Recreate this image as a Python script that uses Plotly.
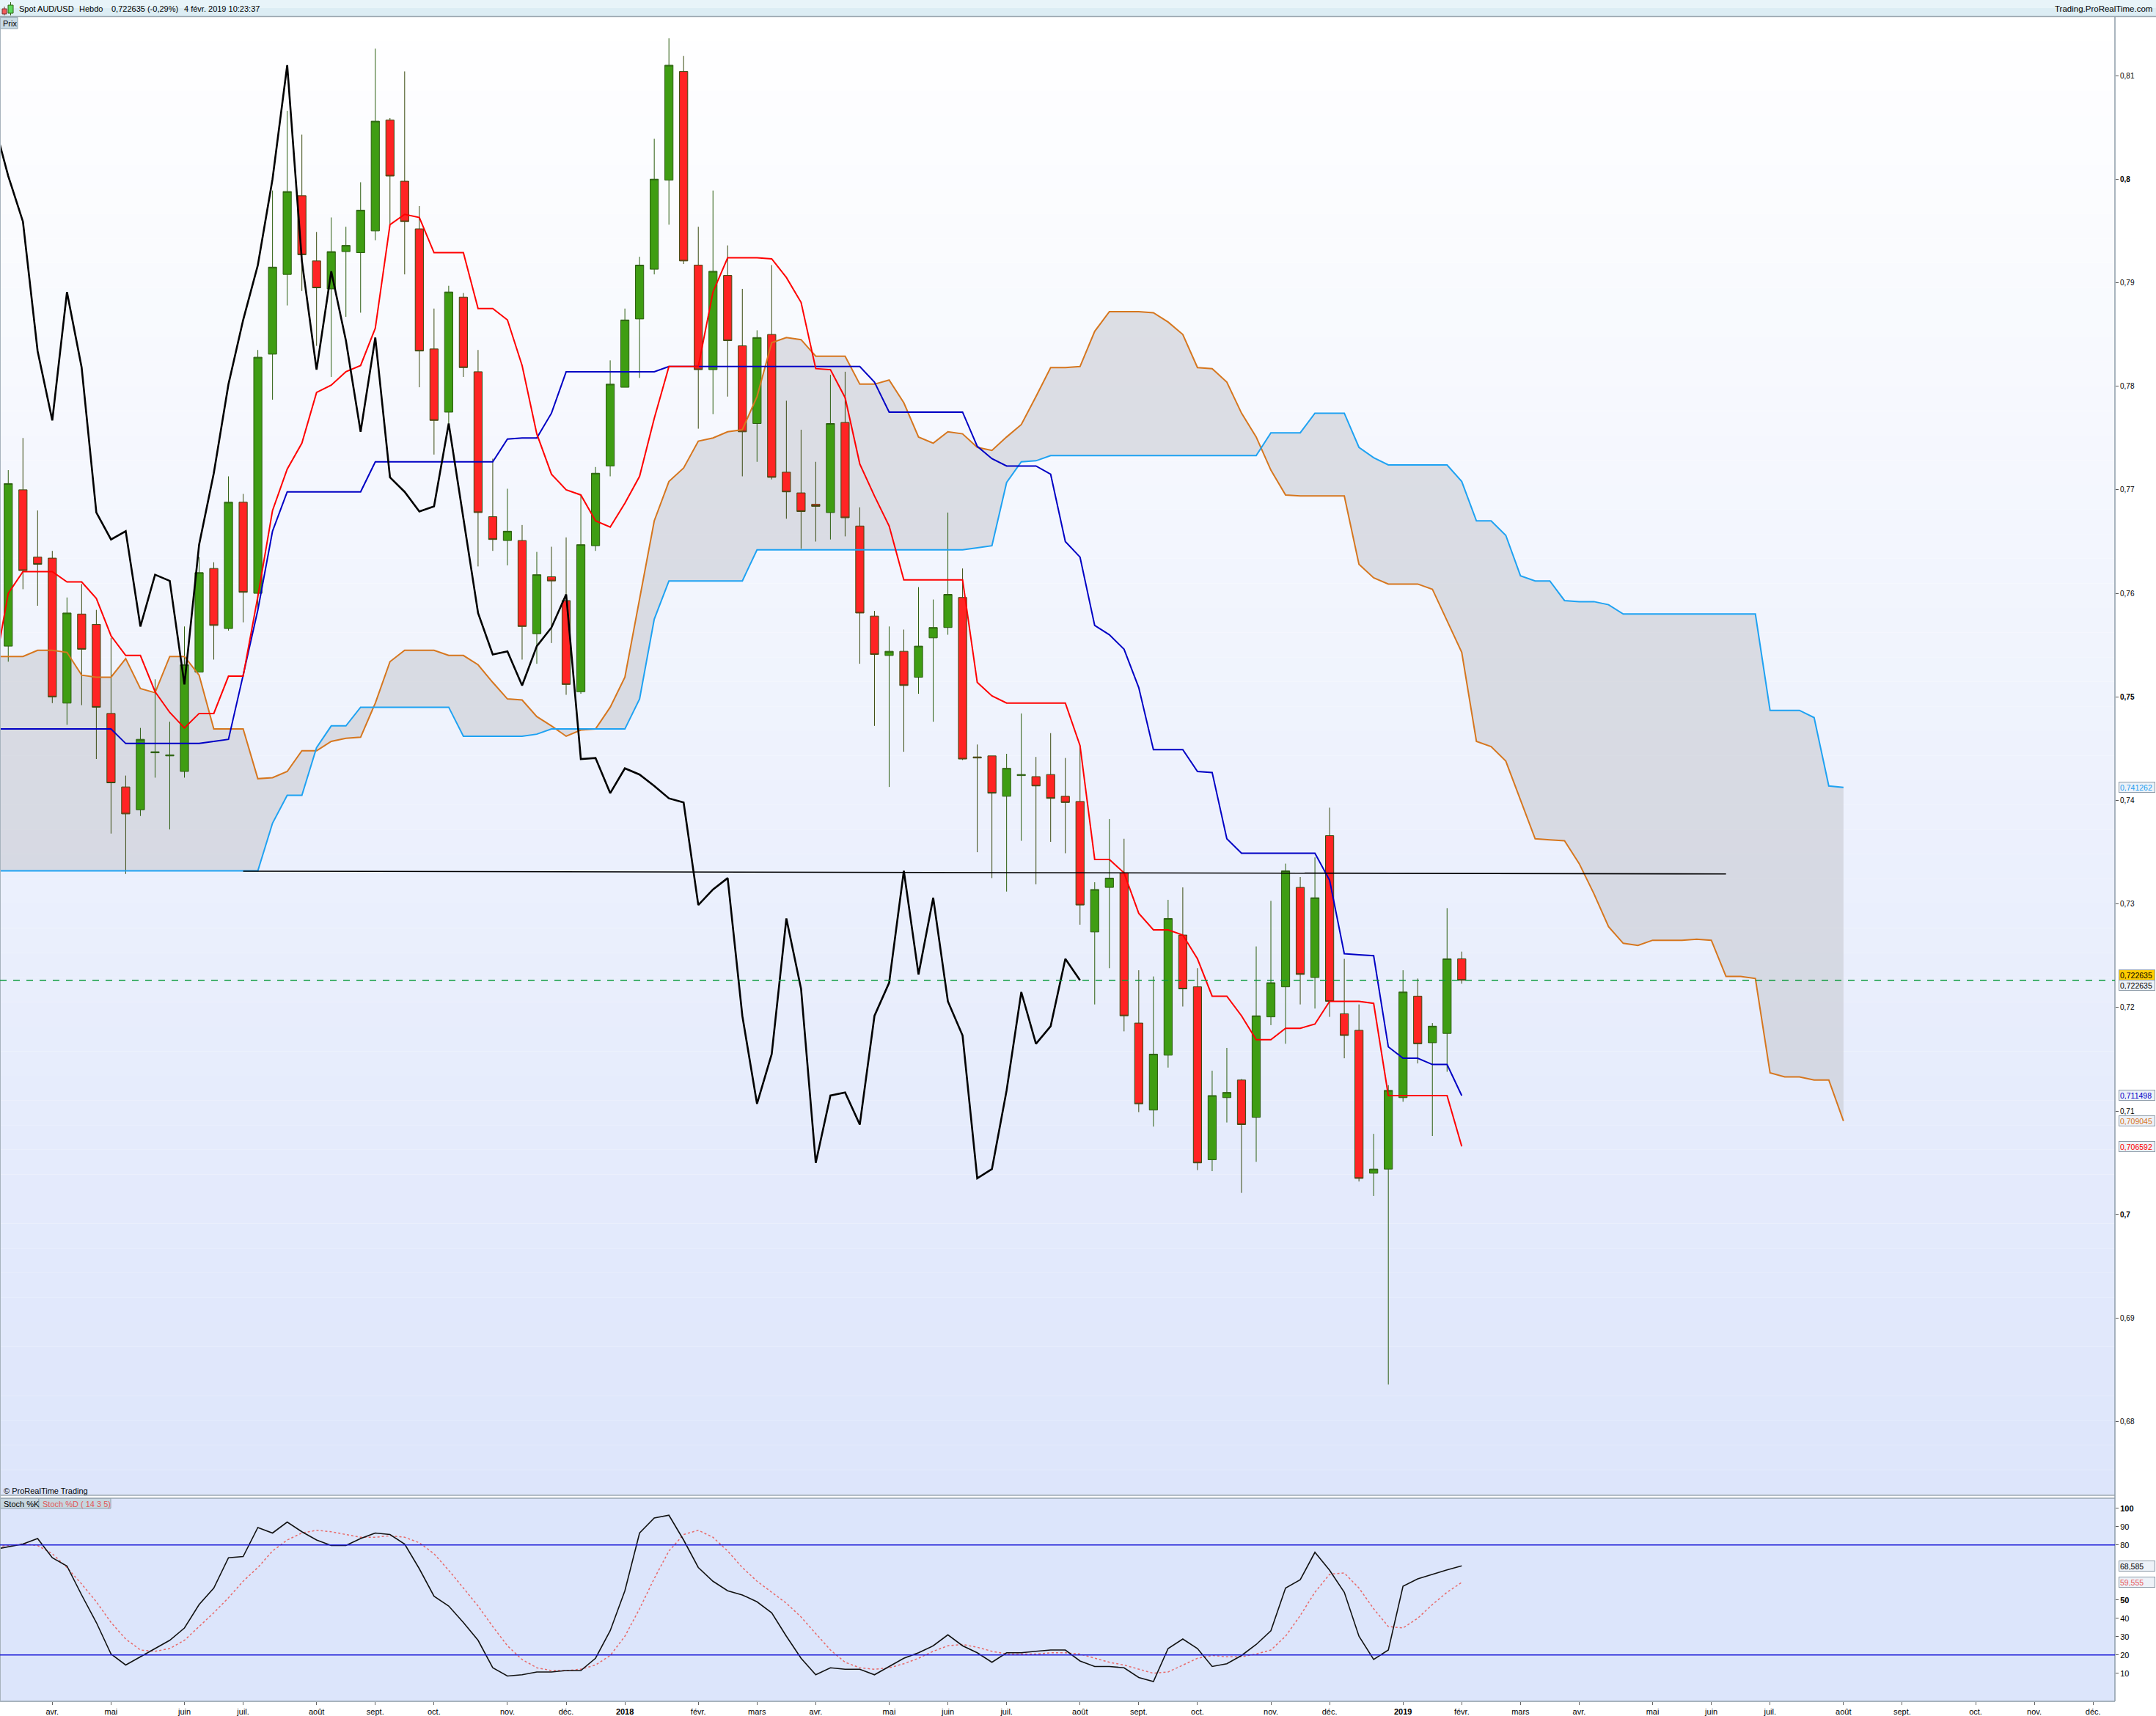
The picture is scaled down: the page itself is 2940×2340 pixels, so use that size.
import numpy as np
import plotly.graph_objects as go

W, H = 2940, 2340
START = np.datetime64("2017-03-13")  # week of first candle

# ---------------- weekly AUD/USD candles (2017-03-13 .. 2019-02-04) ----------------
opens = [0.7549, 0.7700, 0.7635, 0.7634, 0.7494, 0.7580, 0.7570, 0.7484, 0.7413, 0.7391,
         0.7446, 0.7443, 0.7428, 0.7524, 0.7624, 0.7566, 0.7688, 0.7600, 0.7831, 0.7908,
         0.7984, 0.7921, 0.7894, 0.7930, 0.7929, 0.7950, 0.8057, 0.7998, 0.7952, 0.7836,
         0.7775, 0.7886, 0.7814, 0.7674, 0.7651, 0.7651, 0.7561, 0.7616, 0.7593, 0.7505,
         0.7646, 0.7723, 0.7799, 0.7865, 0.7913, 0.7999, 0.8104, 0.7917, 0.7816, 0.7907,
         0.7839, 0.7764, 0.7850, 0.7717, 0.7697, 0.7686, 0.7678, 0.7765, 0.7665, 0.7578,
         0.7540, 0.7544, 0.7519, 0.7557, 0.7567, 0.7596, 0.7442, 0.7443, 0.7404, 0.7424,
         0.7423, 0.7425, 0.7404, 0.7399, 0.7273, 0.7316, 0.7330, 0.7185, 0.7101, 0.7154,
         0.7270, 0.7220, 0.7053, 0.7113, 0.7130, 0.7094, 0.7191, 0.7220, 0.7316, 0.7229,
         0.7366, 0.7194, 0.7178, 0.7040, 0.7044, 0.7113, 0.7211, 0.7166, 0.7175, 0.7247]
highs = [0.7719, 0.7750, 0.7680, 0.7641, 0.7596, 0.7609, 0.7584, 0.7557, 0.7424, 0.7470,
         0.7517, 0.7476, 0.7568, 0.7635, 0.7630, 0.7713, 0.7696, 0.7835, 0.7989, 0.8066,
         0.8043, 0.7949, 0.7963, 0.7954, 0.7997, 0.8126, 0.8059, 0.8104, 0.7974, 0.7875,
         0.7897, 0.7890, 0.7835, 0.7730, 0.7701, 0.7666, 0.7640, 0.7645, 0.7654, 0.7695,
         0.7722, 0.7825, 0.7875, 0.7925, 0.8039, 0.8136, 0.8119, 0.7954, 0.7989, 0.7936,
         0.7894, 0.7854, 0.7917, 0.7786, 0.7758, 0.7727, 0.7811, 0.7814, 0.7683, 0.7583,
         0.7568, 0.7565, 0.7606, 0.7594, 0.7678, 0.7624, 0.7454, 0.7443, 0.7445, 0.7484,
         0.7442, 0.7465, 0.7441, 0.7453, 0.7321, 0.7382, 0.7363, 0.7236, 0.7230, 0.7304,
         0.7316, 0.7238, 0.7139, 0.7161, 0.7131, 0.7259, 0.7303, 0.7339, 0.7326, 0.7345,
         0.7393, 0.7247, 0.7203, 0.7078, 0.7125, 0.7236, 0.7228, 0.7185, 0.7296, 0.7254]
lows = [0.7534, 0.7604, 0.7588, 0.7494, 0.7473, 0.7492, 0.7440, 0.7368, 0.7329, 0.7385,
        0.7422, 0.7372, 0.7422, 0.7524, 0.7536, 0.7564, 0.7572, 0.7586, 0.7787, 0.7878,
        0.7892, 0.7839, 0.7809, 0.7867, 0.7871, 0.7941, 0.7956, 0.7908, 0.7799, 0.7734,
        0.7764, 0.7809, 0.7626, 0.7641, 0.7627, 0.7536, 0.7532, 0.7552, 0.7502, 0.7503,
        0.7641, 0.7713, 0.7799, 0.7808, 0.7908, 0.7956, 0.7918, 0.7759, 0.7773, 0.7790,
        0.7713, 0.7727, 0.7710, 0.7672, 0.7643, 0.7650, 0.7652, 0.7655, 0.7532, 0.7472,
        0.7413, 0.7447, 0.7503, 0.7476, 0.7560, 0.7439, 0.7350, 0.7325, 0.7312, 0.7361,
        0.7319, 0.7360, 0.7349, 0.7280, 0.7203, 0.7238, 0.7177, 0.7099, 0.7085, 0.7142,
        0.7201, 0.7043, 0.7042, 0.7089, 0.7021, 0.7051, 0.7183, 0.7165, 0.7203, 0.7199,
        0.7191, 0.7151, 0.7032, 0.7018, 0.6836, 0.7109, 0.7146, 0.7076, 0.7138, 0.7223]
closes = [0.7706, 0.7622, 0.7628, 0.7500, 0.7581, 0.7546, 0.7490, 0.7417, 0.7387, 0.7459,
          0.7447, 0.7444, 0.7531, 0.7620, 0.7569, 0.7688, 0.7601, 0.7828, 0.7915, 0.7988,
          0.7927, 0.7895, 0.7930, 0.7936, 0.7970, 0.8056, 0.8003, 0.7959, 0.7834, 0.7767,
          0.7891, 0.7818, 0.7678, 0.7652, 0.7660, 0.7568, 0.7618, 0.7612, 0.7512, 0.7647,
          0.7716, 0.7802, 0.7864, 0.7917, 0.8000, 0.8110, 0.7921, 0.7816, 0.7911, 0.7844,
          0.7756, 0.7847, 0.7712, 0.7698, 0.7679, 0.7684, 0.7764, 0.7673, 0.7581, 0.7541,
          0.7544, 0.7511, 0.7549, 0.7567, 0.7599, 0.7440, 0.7441, 0.7407, 0.7431, 0.7425,
          0.7414, 0.7402, 0.7398, 0.7299, 0.7314, 0.7325, 0.7192, 0.7107, 0.7155, 0.7286,
          0.7218, 0.7050, 0.7115, 0.7118, 0.7087, 0.7192, 0.7224, 0.7332, 0.7232, 0.7306,
          0.7206, 0.7173, 0.7035, 0.7044, 0.7120, 0.7215, 0.7165, 0.7182, 0.7247, 0.722635]

# ---------------- Ichimoku lines (first value = week before first candle) ----------------
tenkan = [0.7521, 0.7600, 0.7621, 0.7621, 0.7621, 0.7611, 0.7611, 0.7595, 0.7559, 0.7540,
          0.7540, 0.7505, 0.7485, 0.7470, 0.7484, 0.7484, 0.7520, 0.7520, 0.7597, 0.7680,
          0.7720, 0.7745, 0.7794, 0.7801, 0.7814, 0.7820, 0.7856, 0.7956, 0.7966, 0.7963,
          0.7929, 0.7929, 0.7929, 0.7875, 0.7875, 0.7864, 0.7820, 0.7754, 0.7715, 0.7700,
          0.7695, 0.7670, 0.7664, 0.7687, 0.7713, 0.7769, 0.7819, 0.7819, 0.7819, 0.7891,
          0.7924, 0.7924, 0.7924, 0.7923, 0.7905, 0.7881, 0.7817, 0.7816, 0.7789, 0.7725,
          0.7694, 0.7665, 0.7613, 0.7613, 0.7613, 0.7613, 0.7613, 0.7514, 0.7501, 0.7494,
          0.7494, 0.7494, 0.7494, 0.7494, 0.7453, 0.7343, 0.7343, 0.7330, 0.7291, 0.7275,
          0.7275, 0.7270, 0.7247, 0.7211, 0.7211, 0.7192, 0.7169, 0.7169, 0.7180, 0.7180,
          0.7184, 0.7206, 0.7206, 0.7206, 0.7204, 0.7115, 0.7115, 0.7115, 0.7115, 0.7115,
          0.706592]
kijun = [0.7469, 0.7469, 0.7469, 0.7469, 0.7469, 0.7469, 0.7469, 0.7469, 0.7469, 0.7455,
         0.7455, 0.7455, 0.7455, 0.7455, 0.7455, 0.7457, 0.7459, 0.7521, 0.7584, 0.7660,
         0.7698, 0.7698, 0.7698, 0.7698, 0.7698, 0.7698, 0.7727, 0.7727, 0.7727, 0.7727,
         0.7727, 0.7727, 0.7727, 0.7727, 0.7727, 0.7749, 0.7750, 0.7750, 0.7774, 0.7814,
         0.7814, 0.7814, 0.7814, 0.7814, 0.7814, 0.7814, 0.7819, 0.7819, 0.7819, 0.7819,
         0.7819, 0.7819, 0.7819, 0.7819, 0.7819, 0.7819, 0.7819, 0.7819, 0.7819, 0.7819,
         0.7804, 0.7775, 0.7775, 0.7775, 0.7775, 0.7775, 0.7775, 0.7742, 0.7730, 0.7723,
         0.7723, 0.7723, 0.7715, 0.7650, 0.7635, 0.7569, 0.7560, 0.7546, 0.7509, 0.7449,
         0.7449, 0.7449, 0.7428, 0.7427, 0.7363, 0.7349, 0.7349, 0.7349, 0.7349, 0.7349,
         0.7349, 0.7323, 0.7252, 0.7251, 0.7250, 0.7162, 0.7151, 0.7151, 0.7145, 0.7145,
         0.711498]
senkou_a = [0.7539, 0.7539, 0.7539, 0.7545, 0.7545, 0.7543, 0.7521, 0.7519, 0.7519, 0.7537,
            0.7508, 0.7504, 0.7539, 0.7539, 0.7521, 0.7469, 0.7469, 0.7469, 0.7421, 0.7422,
            0.7428, 0.7448, 0.7448, 0.7457, 0.7460, 0.7461, 0.7494, 0.7534, 0.7545, 0.7545,
            0.7545, 0.7540, 0.7540, 0.7531, 0.7514, 0.7498, 0.7497, 0.7481, 0.7472, 0.7462,
            0.7468, 0.7469, 0.7490, 0.7519, 0.7595, 0.7670, 0.7708, 0.7721, 0.7747, 0.7750,
            0.7756, 0.7758, 0.7790, 0.7842, 0.7847, 0.7845, 0.7829, 0.7829, 0.7829, 0.7802,
            0.7802, 0.7806, 0.7784, 0.7751, 0.7745, 0.7756, 0.7754, 0.7741, 0.7738, 0.7751,
            0.7763, 0.7790, 0.7818, 0.7818, 0.7819, 0.7853, 0.7872, 0.7872, 0.7872, 0.7871,
            0.7862, 0.7850, 0.7818, 0.7817, 0.7804, 0.7774, 0.7751, 0.7719, 0.7695, 0.7694,
            0.7694, 0.7694, 0.7694, 0.7628, 0.7615, 0.7609, 0.7609, 0.7609, 0.7604, 0.7573,
            0.7543, 0.7457, 0.7452, 0.7438, 0.7401, 0.7363, 0.7362, 0.7361, 0.7339, 0.7310,
            0.7278, 0.7262, 0.7260, 0.7265, 0.7265, 0.7265, 0.7266, 0.7265, 0.7230, 0.7230,
            0.7228, 0.7137, 0.7133, 0.7133, 0.7130, 0.7130, 0.709045]
senkou_b = [0.7332, 0.7332, 0.7332, 0.7332, 0.7332, 0.7332, 0.7332, 0.7332, 0.7332, 0.7332,
            0.7332, 0.7332, 0.7332, 0.7332, 0.7332, 0.7332, 0.7332, 0.7332, 0.7332, 0.7378,
            0.7405, 0.7405, 0.7451, 0.7472, 0.7472, 0.7490, 0.7490, 0.7490, 0.7490, 0.7490,
            0.7490, 0.7490, 0.7462, 0.7462, 0.7462, 0.7462, 0.7462, 0.7464, 0.7469, 0.7469,
            0.7469, 0.7469, 0.7469, 0.7469, 0.7498, 0.7575, 0.7612, 0.7612, 0.7612, 0.7612,
            0.7612, 0.7612, 0.7642, 0.7642, 0.7642, 0.7642, 0.7642, 0.7642, 0.7642, 0.7642,
            0.7642, 0.7642, 0.7642, 0.7642, 0.7642, 0.7642, 0.7642, 0.7644, 0.7646, 0.7707,
            0.7727, 0.7728, 0.7733, 0.7733, 0.7733, 0.7733, 0.7733, 0.7733, 0.7733, 0.7733,
            0.7733, 0.7733, 0.7733, 0.7733, 0.7733, 0.7733, 0.7733, 0.7755, 0.7755, 0.7755,
            0.7774, 0.7774, 0.7774, 0.7741, 0.7731, 0.7724, 0.7724, 0.7724, 0.7724, 0.7724,
            0.7708, 0.7670, 0.7670, 0.7656, 0.7617, 0.7612, 0.7612, 0.7593, 0.7592, 0.7592,
            0.7589, 0.7580, 0.7580, 0.7580, 0.7580, 0.7580, 0.7580, 0.7580, 0.7580, 0.7580,
            0.7580, 0.7487, 0.7487, 0.7487, 0.7480, 0.7414, 0.741262]

# ---------------- Stochastic (14 3 5), first value = week before first candle ----------------
stoch_k = [77.5, 79, 80.5, 83.5, 73, 68.5, 52.7, 37.7, 20.5, 14.5, 19, 23.5, 28, 34.7, 47.5,
           56.5, 73, 73.7, 89.5, 86.5, 92.5, 87.2, 82.7, 79.7, 79.7, 83.5, 86.5, 85.7, 80.5, 67,
           52, 46.7, 37.7, 28, 13, 8.5, 9.2, 10.7, 10.7, 11.5, 11.5, 18.2, 33.2, 55, 86.5,
           94.7, 96.2, 82.7, 67.7, 60.2, 55, 52.7, 49, 43, 30.2, 18.2, 9.2, 13, 12.2, 12.2,
           9.2, 13.7, 18.2, 21.2, 25, 31, 25, 21.2, 16, 21.2, 21.2, 22, 22.7, 22.7, 16.7,
           13.7, 13.7, 13, 7.7, 5.5, 23.5, 28.7, 23.5, 13.7, 15.2, 19.7, 25.7, 33.2, 56.5, 61,
           76, 66.2, 54.2, 30.2, 17.5, 22.7, 57.5, 61.5, 64.0, 66.4, 68.585]
stoch_d = [79, 79.7, 80.5, 79.7, 75.2, 67.7, 58.7, 49, 37.7, 28.7, 22.7, 22, 23.5, 28, 35.5,
           43, 51.2, 60.2, 67.7, 76.7, 82.7, 86.5, 88, 87.2, 85.7, 84.2, 84.2, 85, 84.2, 81.2,
           75.2, 66.2, 56.5, 46.7, 35.5, 25, 17.5, 13, 11.5, 11.5, 12.2, 14.5, 19.7, 30.2, 45.2,
           61.7, 76.7, 85.7, 88, 84.2, 76.7, 67.7, 60.2, 54.2, 48.2, 40.7, 31.7, 22.7, 16, 13,
           12.2, 13, 15.2, 18.2, 22, 25, 25.7, 24.2, 22, 20.5, 20.5, 20.5, 21.2, 21.2, 20.5,
           18.2, 16, 14.5, 12.2, 10, 10.7, 14.5, 18.2, 19.7, 19, 19, 20.5, 22.7, 30.2, 41.5,
           54.2, 64, 64.7, 56.5, 45.2, 35.5, 34.7, 40, 47.5, 54.2, 59.555]

# ---------------- drawn support line (price level, start/end week) ----------------
support_weeks = ["2017-07-03", "2019-06-10"]
support_prices = [0.73317, 0.73290]

# ---------------- axis ticks ----------------
month_dates = ["2017-04-03", "2017-05-01", "2017-06-05", "2017-07-03", "2017-08-07", "2017-09-04",
               "2017-10-02", "2017-11-06", "2017-12-04", "2018-01-01", "2018-02-05", "2018-03-05",
               "2018-04-02", "2018-05-07", "2018-06-04", "2018-07-02", "2018-08-06", "2018-09-03",
               "2018-10-01", "2018-11-05", "2018-12-03", "2019-01-07", "2019-02-04", "2019-03-04",
               "2019-04-01", "2019-05-06", "2019-06-03", "2019-07-01", "2019-08-05", "2019-09-02",
               "2019-10-07", "2019-11-04", "2019-12-02"]
month_labels = ["avr.", "mai", "juin", "juil.", "août", "sept.", "oct.", "nov.", "déc.", "<b>2018</b>",
                "févr.", "mars", "avr.", "mai", "juin", "juil.", "août", "sept.", "oct.", "nov.", "déc.",
                "<b>2019</b>", "févr.", "mars", "avr.", "mai", "juin", "juil.", "août", "sept.", "oct.",
                "nov.", "déc."]
price_ticks = [0.68, 0.69, 0.70, 0.71, 0.72, 0.73, 0.74, 0.75, 0.76, 0.77, 0.78, 0.79, 0.80, 0.81]
price_tick_labels = ["0,68", "0,69", "<b>0,7</b>", "0,71", "0,72", "0,73", "0,74", "<b>0,75</b>",
                     "0,76", "0,77", "0,78", "0,79", "<b>0,8</b>", "0,81"]
stoch_ticks = [10, 20, 30, 40, 50, 80, 90, 100]
stoch_tick_labels = ["10", "20", "30", "40", "<b>50</b>", "80", "90", "<b>100</b>"]


def week_index(d):
    return float((np.datetime64(d) - START).astype(int)) / 7.0


xc = np.arange(len(opens))
xi = np.arange(-1, -1 + len(tenkan))
xs = np.arange(-1, -1 + len(senkou_a))
xk = np.arange(-1, -1 + len(stoch_k))
x_chikou = xc - 26
tick_x = [week_index(d) for d in month_dates]

# pixel helpers (plot area: x 0..2884, y 23..2320)
PL, PR, PT, PB = 0, 2884, 23, 2320


def px(x):
    return (x - PL) / (PR - PL)


def py(y):
    return (PB - y) / (PB - PT)


XR = [-0.562, 143.49]
YR = [0.67297, 0.81567]
SR = [-5.3, 105.5]
PRICE_DOM = [py(2038), 1.0]
STOCH_DOM = [0.0, py(2043)]

fig = go.Figure()

# cloud fill (drawn as a shape below candles) built from senkou arrays
pts = [f"{x},{y}" for x, y in zip(xs, senkou_a)] + [f"{x},{y}" for x, y in zip(xs[::-1], senkou_b[::-1])]
cloud_path = "M " + " L ".join(pts) + " Z"

shapes = []
# price panel gradient background
N = 60
for k in range(N):
    t = (k + 0.5) / N
    r = int(round(255 + (221 - 255) * t))
    g = int(round(255 + (229 - 255) * t))
    b = int(round(255 + (251 - 255) * t))
    shapes.append(dict(type="rect", xref="x domain", yref="y domain", x0=0, x1=1,
                       y0=1 - (k + 1) / N, y1=1 - k / N, fillcolor=f"rgb({r},{g},{b})",
                       line=dict(width=0), layer="below"))
# stoch panel background
shapes.append(dict(type="rect", xref="x2 domain", yref="y2 domain", x0=0, x1=1, y0=0, y1=1,
                   fillcolor="#dce5fb", line=dict(width=0), layer="below"))
shapes.append(dict(type="path", xref="x", yref="y", path=cloud_path,
                   fillcolor="rgba(198,199,206,0.56)", line=dict(width=0), layer="below"))

# header bar
shapes.append(dict(type="rect", xref="paper", yref="paper", x0=px(0), x1=px(W), y0=py(23), y1=py(0),
                   fillcolor="#dcedf4", line=dict(width=0), layer="above"))
shapes.append(dict(type="rect", xref="paper", yref="paper", x0=px(0), x1=px(W), y0=py(11), y1=py(0),
                   fillcolor="#e8f4f9", line=dict(width=0), layer="above"))
shapes.append(dict(type="line", xref="paper", yref="paper", x0=px(0), x1=px(W), y0=py(22.5), y1=py(22.5),
                   line=dict(color="#9aa7b0", width=1.5)))
# icon
shapes.append(dict(type="line", xref="paper", yref="paper", x0=px(6), x1=px(6), y0=py(21), y1=py(9),
                   line=dict(color="#7a3030", width=1)))
shapes.append(dict(type="rect", xref="paper", yref="paper", x0=px(3), x1=px(9), y0=py(19), y1=py(12),
                   fillcolor="#f25a5a", line=dict(color="#7a3030", width=1)))
shapes.append(dict(type="line", xref="paper", yref="paper", x0=px(14.5), x1=px(14.5), y0=py(21), y1=py(3),
                   line=dict(color="#2d6010", width=1)))
shapes.append(dict(type="rect", xref="paper", yref="paper", x0=px(11), x1=px(18), y0=py(18), y1=py(7),
                   fillcolor="#5fdc5f", line=dict(color="#2d6010", width=1)))
# Prix tab
shapes.append(dict(type="rect", xref="paper", yref="paper", x0=px(0.5), x1=px(24), y0=py(39), y1=py(23.5),
                   fillcolor="#c9dbe5", line=dict(color="#8ea2ad", width=1)))
# stoch tabs
shapes.append(dict(type="rect", xref="paper", yref="paper", x0=px(0.5), x1=px(53), y0=py(2057), y1=py(2043),
                   fillcolor="#c6d6df", line=dict(color="#8ea2ad", width=1)))
shapes.append(dict(type="rect", xref="paper", yref="paper", x0=px(53), x1=px(151), y0=py(2057), y1=py(2043),
                   fillcolor="#c6d6df", line=dict(color="#8ea2ad", width=1)))
# panel separator and right axis line
shapes.append(dict(type="rect", xref="paper", yref="paper", x0=px(0), x1=px(PR), y0=py(2043), y1=py(2038),
                   fillcolor="#ffffff", line=dict(width=0)))
shapes.append(dict(type="line", xref="paper", yref="paper", x0=px(0), x1=px(PR), y0=py(2039), y1=py(2039),
                   line=dict(color="#98a6b2", width=1.5)))
shapes.append(dict(type="line", xref="paper", yref="paper", x0=px(0), x1=px(PR), y0=py(2043), y1=py(2043),
                   line=dict(color="#98a6b2", width=1.5)))
shapes.append(dict(type="line", xref="paper", yref="paper", x0=px(PR), x1=px(PR), y0=py(PB), y1=py(23),
                   line=dict(color="#8e9ca8", width=1.5)))
shapes.append(dict(type="line", xref="paper", yref="paper", x0=px(0), x1=px(PR), y0=py(PB), y1=py(PB),
                   line=dict(color="#8e9ca8", width=1.5)))
shapes.append(dict(type="line", xref="paper", yref="paper", x0=px(0.5), x1=px(0.5), y0=py(PB), y1=py(23),
                   line=dict(color="#a8b4be", width=1)))
# last price dashed line
shapes.append(dict(type="line", xref="x domain", yref="y", x0=0, x1=1, y0=closes[-1], y1=closes[-1],
                   line=dict(color="#0a9a3a", width=1.6, dash="dash")))
# drawn support line
shapes.append(dict(type="line", xref="x", yref="y",
                   x0=week_index(support_weeks[0]), x1=week_index(support_weeks[1]),
                   y0=support_prices[0], y1=support_prices[1], line=dict(color="#000000", width=1.6)))
# stoch 80/20 levels
for lv in (80, 20):
    shapes.append(dict(type="line", xref="x2 domain", yref="y2", x0=0, x1=1, y0=lv, y1=lv,
                       line=dict(color="#1c1cd8", width=1.6)))

fig.add_trace(go.Candlestick(
    x=xc, open=opens, high=highs, low=lows, close=closes, xaxis="x", yaxis="y",
    increasing=dict(line=dict(color="#2c5e10", width=1), fillcolor="#3f9d13"),
    decreasing=dict(line=dict(color="#3a4a10", width=1), fillcolor="#ff2424"),
    whiskerwidth=0, showlegend=False, hoverinfo="skip"))

fig.add_trace(go.Scatter(x=xs, y=senkou_a, mode="lines", line=dict(color="#d6761e", width=2),
                         showlegend=False, hoverinfo="skip"))
fig.add_trace(go.Scatter(x=xs, y=senkou_b, mode="lines", line=dict(color="#1ea2f2", width=2),
                         showlegend=False, hoverinfo="skip"))
fig.add_trace(go.Scatter(x=xi, y=kijun, mode="lines", line=dict(color="#0000c4", width=2),
                         showlegend=False, hoverinfo="skip"))
fig.add_trace(go.Scatter(x=xi, y=tenkan, mode="lines", line=dict(color="#ff0000", width=2),
                         showlegend=False, hoverinfo="skip"))
fig.add_trace(go.Scatter(x=x_chikou, y=closes, mode="lines", line=dict(color="#000000", width=2.6),
                         showlegend=False, hoverinfo="skip"))

fig.add_trace(go.Scatter(x=xk, y=stoch_d, mode="lines", xaxis="x2", yaxis="y2",
                         line=dict(color="#e86a6a", width=1.5, dash="dot"), showlegend=False, hoverinfo="skip"))
fig.add_trace(go.Scatter(x=xk, y=stoch_k, mode="lines", xaxis="x2", yaxis="y2",
                         line=dict(color="#111111", width=1.6), showlegend=False, hoverinfo="skip"))

FONT = "Liberation Sans, Arial, sans-serif"
ann = []


def text(x, y, s, size=11, color="#000", xanchor="left", bold=False):
    ann.append(dict(xref="paper", yref="paper", x=px(x), y=py(y), text=(f"<b>{s}</b>" if bold else s),
                    showarrow=False, xanchor=xanchor, yanchor="middle",
                    font=dict(family=FONT, size=size, color=color)))


text(24, 12, "Spot AUD/USD")
text(106, 12, "Hebdo")
text(150, 12, "0,722635 (-0,29%)")
text(249, 12, "4 févr. 2019 10:23:37")
text(2937, 12, "Trading.ProRealTime.com", size=11.5, xanchor="right")
text(2, 31.5, "Prix", size=11)
text(3, 2033, "© ProRealTime Trading", size=11)
text(3, 2050.5, "Stoch %K", size=11)
text(56, 2050.5, "Stoch %D ( 14 3 5)", size=11, color="#e0595b")


def value_box(yref, val, label, color, bg="#edf2f8", yshift=0):
    ann.append(dict(xref="paper", yref=yref, x=1, y=val, xanchor="left", yanchor="middle",
                    xshift=5, yshift=yshift, text=label, showarrow=False, width=46, height=11,
                    bgcolor=bg, bordercolor="#8d9ba8", borderwidth=1, borderpad=1, align="left",
                    font=dict(family=FONT, size=10.5, color=color)))


value_box("y", senkou_b[-1], "0,741262", "#1e9ff0")
value_box("y", closes[-1], "0,722635", "#000000", bg="#ffcc00", yshift=7)
value_box("y", closes[-1], "0,722635", "#000000", yshift=-7)
value_box("y", kijun[-1], "0,711498", "#0000c8")
value_box("y", senkou_a[-1], "0,709045", "#d8741c")
value_box("y", tenkan[-1], "0,706592", "#ff0000")
value_box("y2", stoch_k[-1], "68,585", "#000000")
value_box("y2", stoch_d[-1], "59,555", "#e8595b")

fig.update_layout(
    width=W, height=H, margin=dict(l=PL, r=W - PR, t=PT, b=H - PB),
    paper_bgcolor="#ffffff", plot_bgcolor="#ffffff", boxgap=0.2, showlegend=False,
    shapes=shapes, annotations=ann, font=dict(family=FONT, size=11, color="#000"),
    xaxis=dict(domain=[0, 1], range=XR, anchor="y", showticklabels=False, showgrid=False,
               zeroline=False, rangeslider=dict(visible=False), showline=False, ticks=""),
    yaxis=dict(domain=PRICE_DOM, range=YR, anchor="x", side="right", tickvals=price_ticks,
               ticktext=price_tick_labels, ticks="outside", ticklen=4, tickcolor="#555",
               tickfont=dict(family=FONT, size=10, color="#000"), showgrid=False, zeroline=False,
               showline=False),
    xaxis2=dict(domain=[0, 1], range=XR, anchor="y2", tickvals=tick_x, ticktext=month_labels,
                ticks="outside", ticklen=4, tickcolor="#666", tickfont=dict(family=FONT, size=11, color="#000"),
                showgrid=False, zeroline=False, showline=False),
    yaxis2=dict(domain=STOCH_DOM, range=SR, anchor="x2", side="right", tickvals=stoch_ticks,
                ticktext=stoch_tick_labels, ticks="outside", ticklen=4, tickcolor="#555",
                tickfont=dict(family=FONT, size=11, color="#000"), showgrid=False, zeroline=False,
                showline=False),
)

fig.write_html("out.html", config={"displayModeBar": False},
               post_script="document.body.style.margin='0';")
